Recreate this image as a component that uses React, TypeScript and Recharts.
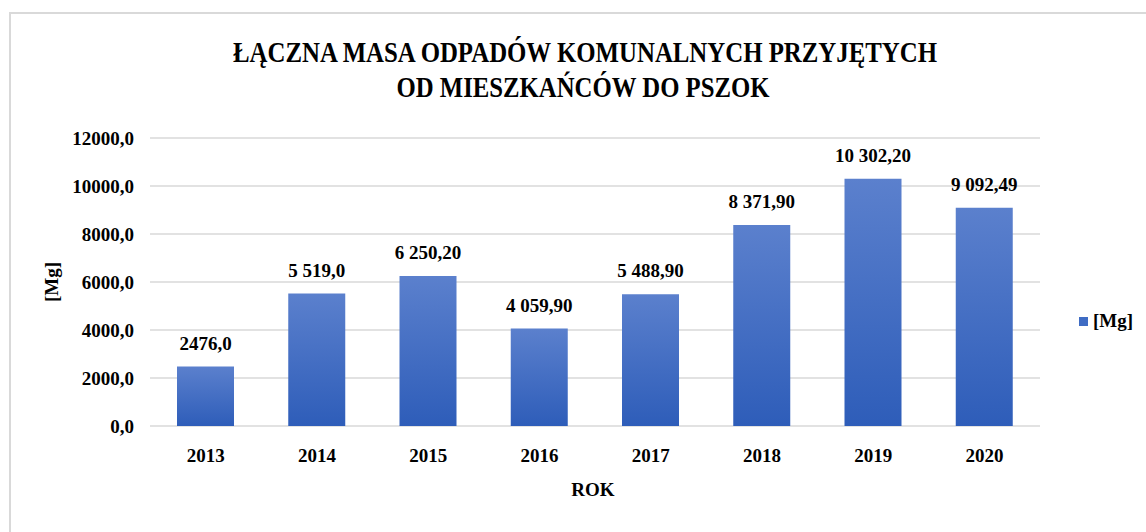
import React from "react"
import { Bar, BarChart, XAxis, YAxis, CartesianGrid, LabelList } from "recharts"

const years = ["2013", "2014", "2015", "2016", "2017", "2018", "2019", "2020"]
const masses = [2476.0, 5519.0, 6250.2, 4059.9, 5488.9, 8371.9, 10302.2, 9092.49]
const massLabels = ["2476,0", "5\u00a0519,0", "6\u00a0250,20", "4\u00a0059,90", "5\u00a0488,90", "8\u00a0371,90", "10\u00a0302,20", "9\u00a0092,49"]
const yTicks = [0, 2000, 4000, 6000, 8000, 10000, 12000]

const titleLines = ["ŁĄCZNA MASA ODPADÓW KOMUNALNYCH PRZYJĘTYCH", "OD MIESZKAŃCÓW DO PSZOK"]

const font = "'Liberation Serif', 'Times New Roman', serif"

export default function App() {
  const data = years.map((year, i) => ({ year, mass: masses[i], label: massLabels[i] }))

  return (
    <div style={{ position: "fixed", left: 0, top: 0, width: 1146, height: 532, overflow: "hidden", background: "#fff", fontFamily: font }}>
      <div style={{ position: "absolute", left: 9, top: 12, width: 1150, height: 540, border: "2px solid #d9d9d9" }} />

      {/* tytuł */}
      <svg width={1146} height={110} style={{ position: "absolute", left: 0, top: 0 }}>
        <text x={585} y={62} textAnchor="middle" fontSize={29} fontWeight="bold" fontFamily={font} textLength={704} lengthAdjust="spacingAndGlyphs" fill="#000">
          {titleLines[0]}
        </text>
        <text x={583} y={97} textAnchor="middle" fontSize={29} fontWeight="bold" fontFamily={font} textLength={373} lengthAdjust="spacingAndGlyphs" fill="#000">
          {titleLines[1]}
        </text>
      </svg>

      <div style={{ position: "absolute", left: 0, top: 0 }}>
        <BarChart width={1146} height={532} data={data} margin={{ top: 138, right: 106, bottom: 76, left: 10 }} barSize={57}>
          <defs>
            <linearGradient id="barFill" x1="0" y1="0" x2="0" y2="1">
              <stop offset="0%" stopColor="#5b80cd" />
              <stop offset="100%" stopColor="#2e5db9" />
            </linearGradient>
          </defs>
          <CartesianGrid vertical={false} stroke="#d9d9d9" strokeWidth={1.5} />
          <XAxis
            dataKey="year"
            height={30}
            axisLine={false}
            tickLine={false}
            tickMargin={17}
            tick={{ fill: "#000", fontSize: 19, fontWeight: "bold", fontFamily: font }}
          />
          <YAxis
            width={140}
            domain={[0, 12000]}
            ticks={yTicks}
            axisLine={false}
            tickLine={false}
            tickMargin={10}
            tickFormatter={(v) => `${(v as number).toFixed(1).replace(".", ",")}`}
            tick={{ fill: "#000", fontSize: 19, fontWeight: "bold", fontFamily: font }}
          />
          <Bar dataKey="mass" fill="url(#barFill)" isAnimationActive={false}>
            <LabelList dataKey="label" position="top" offset={17} fill="#000" fontSize={19} fontWeight="bold" fontFamily={font} />
          </Bar>
        </BarChart>
      </div>

      {/* oś Y */}
      <div style={{ position: "absolute", left: 52, top: 282, transform: "translate(-50%, -50%) rotate(-90deg)", fontSize: 19, fontWeight: "bold", whiteSpace: "nowrap" }}>
        [Mg]
      </div>
      {/* oś X */}
      <div style={{ position: "absolute", left: 593, top: 490, transform: "translate(-50%, -50%)", fontSize: 19, fontWeight: "bold" }}>
        ROK
      </div>
      {/* legenda */}
      <div style={{ position: "absolute", left: 1079, top: 310, display: "flex", alignItems: "center", fontSize: 19, fontWeight: "bold" }}>
        <span style={{ width: 9, height: 9, background: "#3f6cc4", marginRight: 5, display: "inline-block" }} />
        [Mg]
      </div>
    </div>
  )
}
